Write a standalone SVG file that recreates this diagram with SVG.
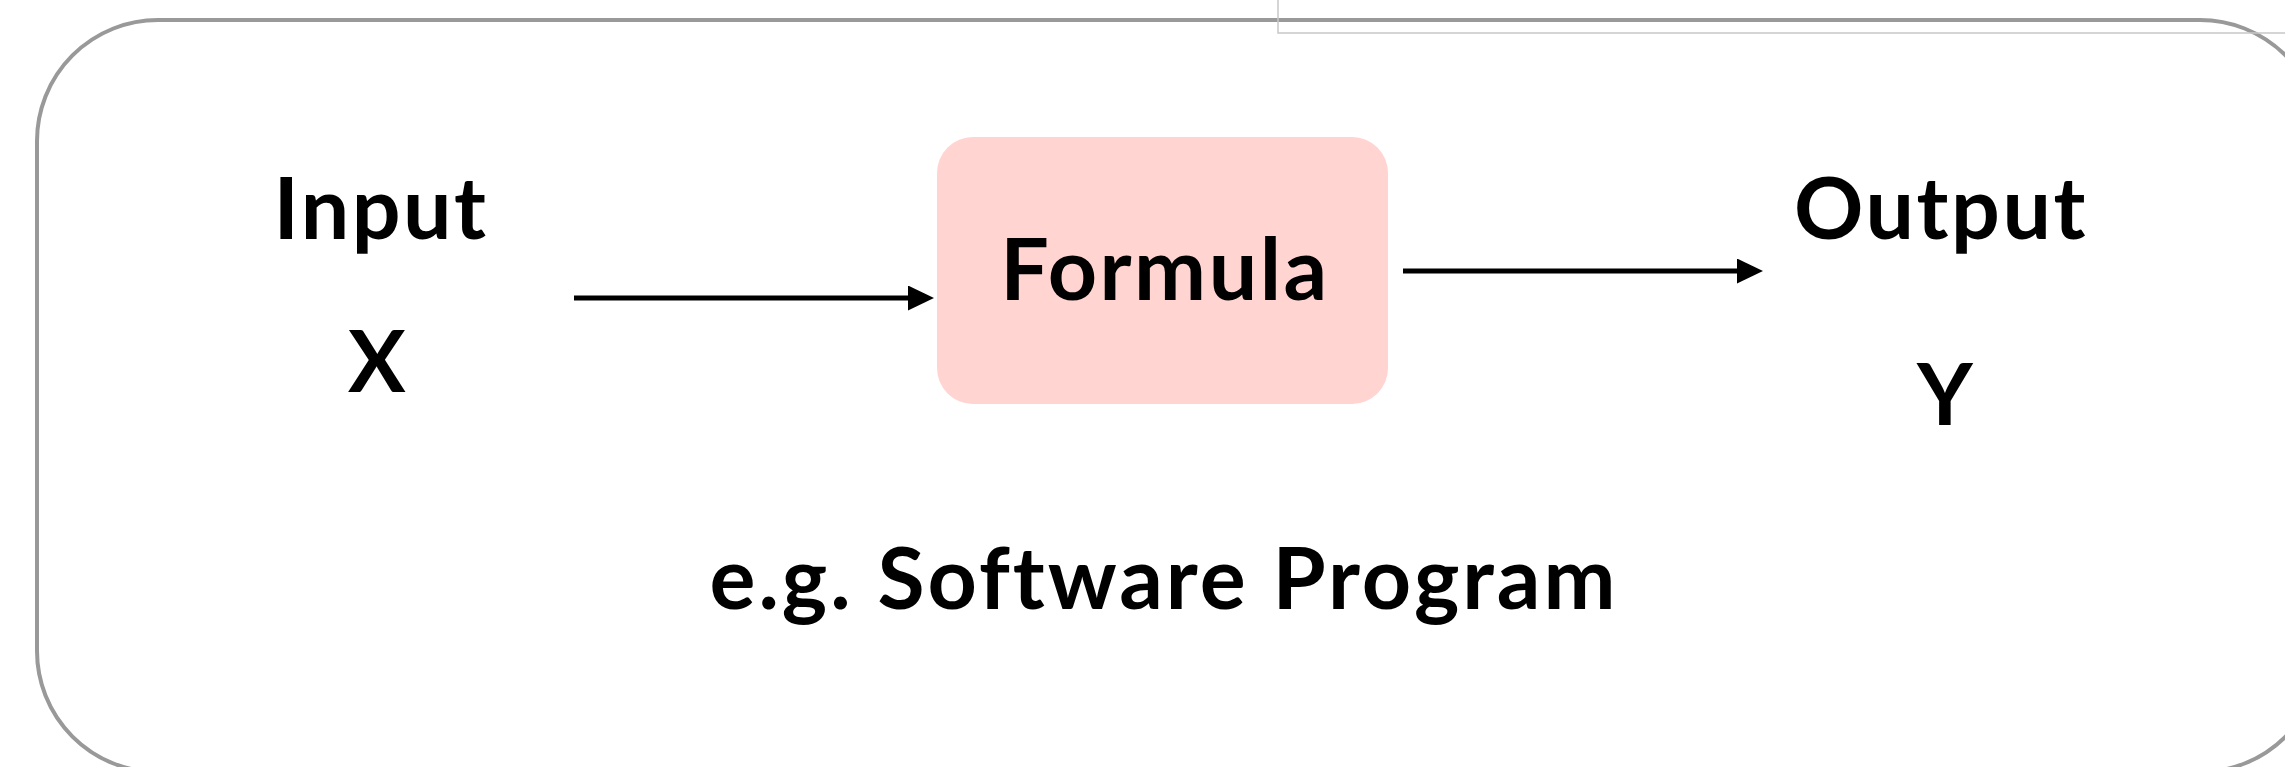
<svg xmlns="http://www.w3.org/2000/svg" width="2285" height="767" viewBox="0 0 2285 767">
  <style>
    .lbl { font-family: "Lato", "Liberation Sans", sans-serif; font-weight: 700; font-size: 86px; fill: #000; text-anchor: middle; letter-spacing: 2.5px; }
    .conn { stroke: #000; stroke-width: 5; fill: none; }
    .frame { fill: none; stroke: #999; stroke-width: 4; }
    .guide { fill: none; stroke: #c8c8c8; stroke-width: 1.5; }
  </style>
  <defs>
    <marker id="arrow" markerUnits="userSpaceOnUse" markerWidth="26" markerHeight="25" refX="2" refY="12.5" orient="auto" viewBox="0 0 26 25">
      <path d="M0,0 L26,12.5 L0,25 z" fill="#000"/>
    </marker>
  </defs>
  <rect width="2285" height="767" fill="#fff"/>
  <g id="frame">
    <rect class="frame" x="37" y="20" width="2284" height="752" rx="121" ry="121"/>
    <path class="guide" d="M1278,0 V33 H2285"/>
  </g>
  <g id="input">
    <text class="lbl" x="381" y="239">Input</text>
    <text class="lbl" x="378" y="392">X</text>
  </g>
  <g id="formula">
    <rect x="937" y="137" width="451" height="267" rx="36" ry="36" fill="#FFD4D1"/>
    <text class="lbl" x="1165" y="300">Formula</text>
  </g>
  <g id="output">
    <text class="lbl" x="1941" y="239">Output</text>
    <text class="lbl" x="1946" y="425">Y</text>
  </g>
  <g id="caption">
    <text class="lbl" x="1164" y="609" style="letter-spacing:3px">e.g. Software Program</text>
  </g>
  <g id="connectors">
    <line class="conn" x1="574" y1="298" x2="910" y2="298" marker-end="url(#arrow)"/>
    <line class="conn" x1="1403" y1="271" x2="1739" y2="271" marker-end="url(#arrow)"/>
  </g>
</svg>
